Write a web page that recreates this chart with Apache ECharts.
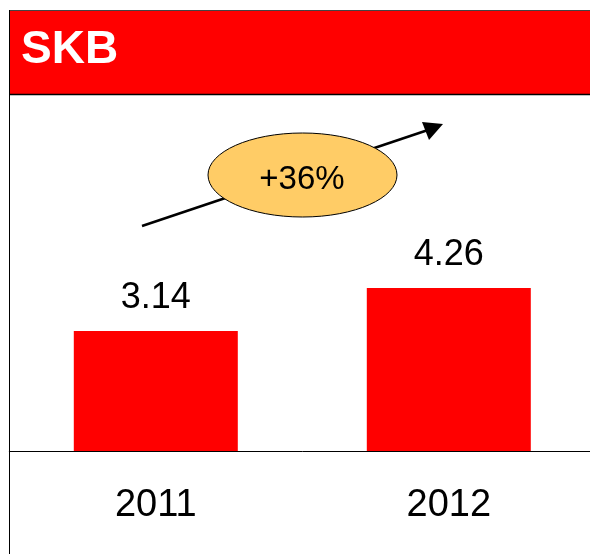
<!DOCTYPE html>
<html>
<head>
<meta charset="utf-8">
<script src="https://cdn.jsdelivr.net/npm/echarts@6/dist/echarts.min.js"></script>
<style>
  html, body { margin: 0; padding: 0; background: #fff; overflow: hidden; }
  #chart { width: 600px; height: 554px; }
</style>
</head>
<body>
<div id="chart"></div>
<script>
const years = ["2011", "2012"];
const values = [3.14, 4.26];
const title = "SKB";
const growthLabel = "+36%";

// the plot runs a few pixels past the right edge of the 590px window
const chart = echarts.init(document.getElementById("chart"));
const font = "Liberation Sans, Arial, sans-serif";

chart.setOption({
  animation: false,
  grid: { left: 9.3, width: 586, top: 145, height: 306 },
  xAxis: {
    type: "category",
    data: years,
    axisLine: { lineStyle: { color: "#000", width: 1 } },
    axisTick: { show: false },
    axisLabel: { color: "#000", fontSize: 38, fontFamily: font, margin: 36 }
  },
  yAxis: {
    type: "value",
    min: 0,
    max: 8,
    show: false,
    splitLine: { show: false }
  },
  series: [{
    type: "bar",
    data: values,
    barWidth: 164,
    itemStyle: { color: "#ff0000" },
    label: {
      show: true,
      position: "top",
      distance: 15,
      color: "#000",
      fontSize: 36,
      fontFamily: font,
      formatter: (p) => p.value.toFixed(2)
    }
  }],
  graphic: [
    // header band
    { type: "rect", shape: { x: 10, y: 10, width: 590, height: 84 },
      style: { fill: "#ff0000" }, z: 10 },
    { type: "line", shape: { x1: 9, y1: 10.5, x2: 600, y2: 10.5 },
      style: { stroke: "#444", lineWidth: 1 }, z: 11 },
    { type: "line", shape: { x1: 9, y1: 94.5, x2: 600, y2: 94.5 },
      style: { stroke: "#000", lineWidth: 1.5 }, z: 11 },
    { type: "line", shape: { x1: 9.5, y1: 10, x2: 9.5, y2: 554 },
      style: { stroke: "#000", lineWidth: 1 }, z: 11 },
    { type: "text", left: 21, top: 27, z: 12,
      style: { text: title, fill: "#fff", font: "bold 46px " + font } },
    // growth arrow
    { type: "line", shape: { x1: 142, y1: 226, x2: 428, y2: 130 },
      style: { stroke: "#000", lineWidth: 2.5 }, z: 5 },
    { type: "polygon", shape: { points: [[443, 124], [422, 122], [429, 140]] },
      style: { fill: "#000" }, z: 5 },
    { type: "ellipse", shape: { cx: 302.5, cy: 175, rx: 94.5, ry: 42 },
      style: { fill: "#ffcc66", stroke: "#000", lineWidth: 1 }, z: 6 },
    { type: "text", x: 302, y: 180, z: 7,
      style: { text: growthLabel, fill: "#000", font: "33px " + font,
               align: "center", verticalAlign: "middle" } }
  ]
});
</script>
</body>
</html>
